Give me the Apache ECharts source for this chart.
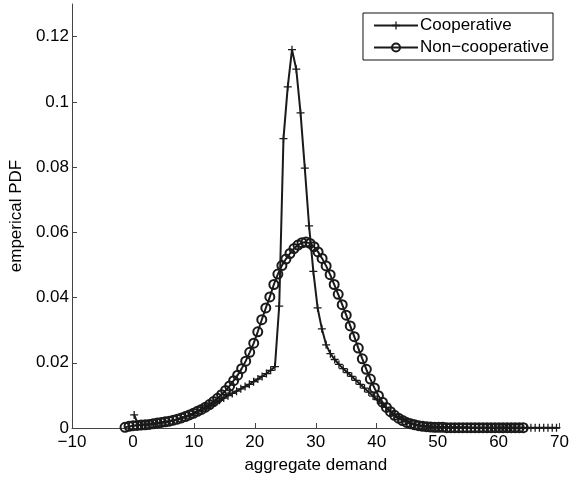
<!DOCTYPE html>
<html>
<head>
<meta charset="utf-8">
<script src="https://cdn.jsdelivr.net/npm/echarts@6/dist/echarts.min.js"></script>
<style>
html,body{margin:0;padding:0;background:#fff;}
#chart{width:572px;height:480px;}
</style>
</head>
<body>
<div id="chart"></div>
<script>
// Cooperative: x positions (aggregate demand) and empirical PDF values
const coopX = [0.2,0.9,1.6,2.3,3.0,3.7,4.4,5.1,5.8,6.5,7.2,7.9,8.6,9.3,10.0,10.7,11.4,12.1,12.8,13.5,
  14.2,14.9,15.6,16.3,17.0,17.7,18.4,19.1,19.8,20.5,21.2,21.9,22.6,23.3,24.0,24.7,25.4,26.1,26.8,27.5,
  28.2,28.9,29.6,30.3,31.0,31.7,32.4,33.1,33.8,34.5,35.2,35.9,36.6,37.3,38.0,38.7,39.4,40.1,40.8,41.5,
  42.2,42.9,43.6,44.3,45.0,45.7,46.4,47.1,47.8,48.5,49.2,49.9,50.6,51.3,52.0,52.7,53.4,54.1,54.8,55.5,
  56.2,56.9,57.6,58.3,59.0,59.7,60.4,61.1,61.8,62.5,63.2,63.9,64.6,65.3,66.0,66.7,67.4,68.1,68.8,69.5];
const coopY = [0.0040,0.0009,0.0010,0.0011,0.0012,0.0014,0.0016,0.0018,0.0020,0.0023,0.0026,0.0030,0.0034,0.0039,0.0044,0.0050,0.0056,0.0063,0.0070,0.0078,
  0.0085,0.0092,0.0099,0.0106,0.0113,0.0120,0.0127,0.0134,0.0142,0.0150,0.0158,0.0167,0.0177,0.0188,0.0374,0.0887,0.1046,0.1160,0.1100,0.0966,
  0.0797,0.0620,0.0480,0.0368,0.0304,0.0255,0.0228,0.0210,0.0195,0.0182,0.0170,0.0158,0.0146,0.0134,0.0122,0.0110,0.0098,0.0087,0.0075,0.0063,
  0.0052,0.0042,0.0033,0.0026,0.0020,0.0015,0.0011,0.0008,0.0006,0.0005,0.0004,0.0003,0.0003,0.0002,0.0002,0.0002,0.0002,0.0002,0.0002,0.0001,
  0.0001,0.0001,0.0001,0.0001,0.0001,0.0001,0.0001,0.0001,0.0001,0.0001,0.0001,0.0001,0.0001,0.0001,0.0001,0.0001,0.0001,0.0001,0.0001,0.0001];

// Non-cooperative
const nonX = [-1.3,-0.64,0.02,0.68,1.34,2.0,2.66,3.32,3.98,4.64,5.3,5.96,6.62,7.28,7.94,8.6,9.26,9.92,10.58,11.24,
  11.9,12.56,13.22,13.88,14.54,15.2,15.86,16.52,17.18,17.84,18.5,19.16,19.82,20.48,21.14,21.8,22.46,23.12,23.78,24.44,
  25.1,25.76,26.42,27.08,27.74,28.4,29.06,29.72,30.38,31.04,31.7,32.36,33.02,33.68,34.34,35.0,35.66,36.32,36.98,37.64,
  38.3,38.96,39.62,40.28,40.94,41.6,42.26,42.92,43.58,44.24,44.9,45.56,46.22,46.88,47.54,48.2,48.86,49.52,50.18,50.84,
  51.5,52.16,52.82,53.48,54.14,54.8,55.46,56.12,56.78,57.44,58.1,58.76,59.42,60.08,60.74,61.4,62.06,62.72,63.38,64.04];
const nonY = [0.0002,0.0005,0.0007,0.0008,0.0009,0.0010,0.0011,0.0013,0.0015,0.0017,0.0019,0.0021,0.0024,0.0027,0.0031,0.0035,0.0040,0.0045,0.0051,0.0057,
  0.0064,0.0072,0.0081,0.0091,0.0102,0.0115,0.0129,0.0145,0.0162,0.0182,0.0205,0.0232,0.0260,0.0295,0.0332,0.0368,0.0402,0.0440,0.0472,0.0498,
  0.0518,0.0535,0.0550,0.0561,0.0568,0.0570,0.0566,0.0556,0.0540,0.0520,0.0497,0.0470,0.0440,0.0410,0.0378,0.0346,0.0313,0.0280,0.0245,0.0212,
  0.0180,0.0150,0.0123,0.0099,0.0079,0.0063,0.0050,0.0039,0.0030,0.0023,0.0017,0.0013,0.0010,0.0007,0.0005,0.0004,0.0003,0.0002,0.0002,0.0002,
  0.0001,0.0001,0.0001,0.0001,0.0001,0.0001,0.0001,0.0001,0.0001,0.0001,0.0001,0.0001,0.0001,0.0001,0.0001,0.0001,0.0001,0.0001,0.0001,0.0001];

const seriesNames = ['Cooperative', 'Non\u2212cooperative'];
const xTicks = {min: -10, max: 70, step: 10};
const yTicks = {min: 0, max: 0.13, step: 0.02};

const plusPath = 'path://M-1,-0.16L-0.16,-0.16L-0.16,-1L0.16,-1L0.16,-0.16L1,-0.16L1,0.16L0.16,0.16L0.16,1L-0.16,1L-0.16,0.16L-1,0.16Z';
const font = 'Liberation Sans, Arial, Helvetica, sans-serif';
const ink = '#1a1a1a';

function pairs(xs, ys){ return xs.map((x,i)=>[x, ys[i]]); }

const chart = echarts.init(document.getElementById('chart'), null, {renderer:'canvas'});
chart.setOption({
  animation: false,
  backgroundColor: '#fff',
  textStyle: {fontFamily: font, color: '#000'},
  grid: {left: 72, right: 10, top: 4, bottom: 52, containLabel: false},
  legend: {
    orient: 'vertical', right: 19, top: 13,
    backgroundColor: '#fff', borderColor: '#111', borderWidth: 1, borderRadius: 0,
    padding: [4, 4, 4, 10], itemGap: 5, itemWidth: 44, itemHeight: 10,
    textStyle: {fontFamily: font, fontSize: 17, color: '#000', padding: [0,0,0,-3]},
    data: seriesNames
  },
  xAxis: {
    type: 'value', min: xTicks.min, max: xTicks.max, interval: xTicks.step,
    name: 'aggregate demand', nameLocation: 'middle', nameGap: 29,
    nameTextStyle: {fontFamily: font, fontSize: 17, color: '#000'},
    axisLine: {onZero: false, lineStyle: {color: '#444', width: 1}},
    axisTick: {inside: true, length: 5, lineStyle: {color: '#444'}},
    axisLabel: {fontFamily: font, fontSize: 17, color: '#000', margin: 6, formatter: v => String(v).replace('-', '\u2212')},
    splitLine: {show: false}
  },
  yAxis: {
    type: 'value', min: yTicks.min, max: yTicks.max, interval: yTicks.step,
    name: 'emperical PDF', nameLocation: 'middle', nameGap: 47,
    nameTextStyle: {fontFamily: font, fontSize: 17, color: '#000'},
    axisLine: {onZero: false, lineStyle: {color: '#444', width: 1}},
    axisTick: {inside: true, length: 5, lineStyle: {color: '#444'}},
    axisLabel: {fontFamily: font, fontSize: 17, color: '#000', margin: 3, showMaxLabel: false,
      formatter: v => (Math.abs(v) < 1e-9 ? '0' : String(+v.toFixed(2)))},
    splitLine: {show: false}
  },
  series: [
    {
      name: seriesNames[0], type: 'line', data: pairs(coopX, coopY),
      symbol: plusPath, symbolSize: 8, showSymbol: true, showAllSymbol: true,
      lineStyle: {color: ink, width: 2},
      itemStyle: {color: ink}
    },
    {
      name: seriesNames[1], type: 'line', data: pairs(nonX, nonY),
      symbol: 'circle', symbolSize: 9, showSymbol: true, showAllSymbol: true,
      lineStyle: {color: ink, width: 2},
      itemStyle: {color: 'rgba(0,0,0,0)', borderColor: ink, borderWidth: 2}
    }
  ]
});
</script>
</body>
</html>
